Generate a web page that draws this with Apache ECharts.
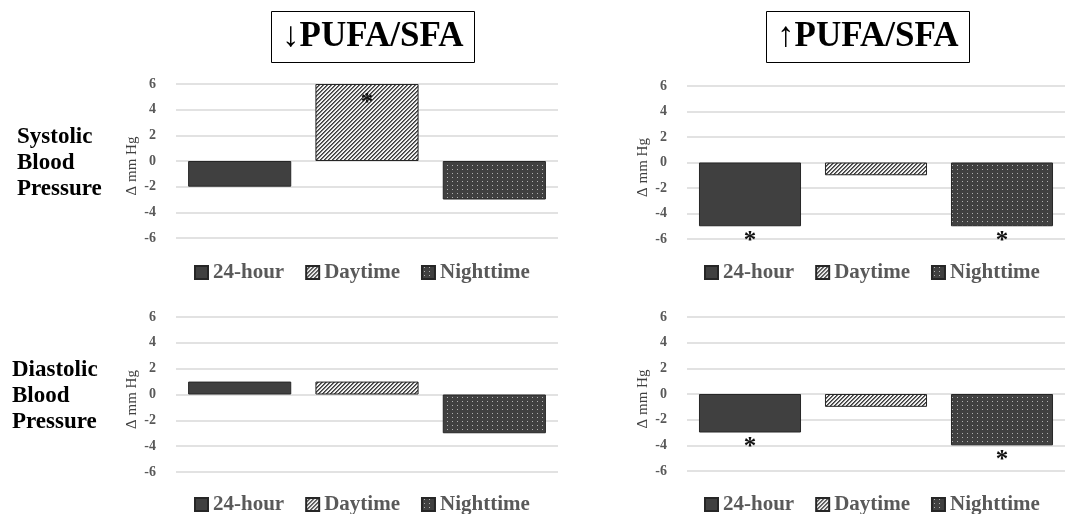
<!DOCTYPE html>
<html>
<head>
<meta charset="utf-8">
<script src="https://cdn.jsdelivr.net/npm/echarts@6/dist/echarts.min.js"></script>
<style>html,body{margin:0;padding:0;background:#fff}#c{width:1065px;height:514px}</style>
</head>
<body>
<div id="c"></div>
<script>
// ---- data ----
const categories = ['24-hour', 'Daytime', 'Nighttime'];
const panelTitles = ['\u2193PUFA/SFA', '\u2191PUFA/SFA'];
const rowLabels = ['Systolic\nBlood\nPressure', 'Diastolic\nBlood\nPressure'];
const yTicks = [-6, -4, -2, 0, 2, 4, 6];
const yName = '\u0394 mm Hg';
// change in mm Hg, order = categories
const sbpLowPS = [-2, 6, -3];
const sbpHighPS = [-5, -1, -5];
const dbpLowPS = [1, 1, -3];
const dbpHighPS = [-3, -1, -4];
// significance markers (*)
const sbpLowSig = [false, true, false];
const sbpHighSig = [true, false, true];
const dbpLowSig = [false, false, false];
const dbpHighSig = [true, false, true];

// ---- patterns ----
function hatch() {
  const c = document.createElement('canvas'); c.width = 4; c.height = 4;
  const g = c.getContext('2d');
  g.fillStyle = '#f0f0f0'; g.fillRect(0, 0, 4, 4);
  for (let x = 0; x < 4; x++) for (let y = 0; y < 4; y++) {
    const k = (x + y) % 4;
    if (k === 3) { g.fillStyle = '#3c3c3c'; g.fillRect(x, y, 1, 1); }
    if (k === 0) { g.fillStyle = '#6e6e6e'; g.fillRect(x, y, 1, 1); }
  }
  return c;
}
function dots() {
  const c = document.createElement('canvas'); c.width = 5; c.height = 4;
  const g = c.getContext('2d');
  g.fillStyle = '#404040'; g.fillRect(0, 0, 5, 4);
  g.fillStyle = '#b0b0b0'; g.fillRect(2, 1, 1, 1);
  return c;
}
const fills = ['#404040', { image: hatch(), repeat: 'repeat' }, { image: dots(), repeat: 'repeat' }];

const FONT = 'Liberation Serif, DejaVu Serif, serif';
const panels = [
  { vals: sbpLowPS, sig: sbpLowSig, left: 176, top: 84, height: 154 },
  { vals: sbpHighPS, sig: sbpHighSig, left: 687, top: 86, height: 153 },
  { vals: dbpLowPS, sig: dbpLowSig, left: 176, top: 317, height: 155 },
  { vals: dbpHighPS, sig: dbpHighSig, left: 687, top: 317, height: 154 }
];

const grid = [], xAxis = [], yAxis = [], series = [], legend = [];
panels.forEach((p, pi) => {
  grid.push({ left: p.left, top: p.top, width: 382, height: p.height });
  xAxis.push({ type: 'category', gridIndex: pi, data: categories,
    axisLine: { show: false }, axisTick: { show: false }, axisLabel: { show: false } });
  yAxis.push({ type: 'value', gridIndex: pi, min: yTicks[0], max: yTicks[yTicks.length - 1], interval: 2,
    name: yName, nameLocation: 'middle', nameGap: 36, nameRotate: 90,
    nameTextStyle: { fontFamily: FONT, fontSize: 15, color: '#404040', padding: [0, 10, 0, 0] },
    axisLine: { show: false }, axisTick: { show: false },
    axisLabel: { margin: 20, fontFamily: FONT, fontWeight: 'bold', fontSize: 14, color: '#595959' },
    splitLine: { lineStyle: { color: '#d9d9d9', width: 1.5 } } });
  categories.forEach((cat, ci) => {
    const data = categories.map((_, k) => {
      if (k !== ci) return '-';
      const v = p.vals[k];
      const item = { value: v };
      if (p.sig[k]) {
        item.label = { show: true, formatter: '*', position: v > 0 ? 'insideTop' : 'bottom',
          distance: v > 0 ? 7 : 3, fontFamily: FONT, fontWeight: 'bold', fontSize: 25, color: '#111' };
      }
      return item;
    });
    series.push({ type: 'bar', name: cat, xAxisIndex: pi, yAxisIndex: pi, data,
      barWidth: '81%', barGap: '-100%',
      itemStyle: { color: fills[ci], borderColor: '#262626', borderWidth: 1 },
      emphasis: { disabled: true }, silent: true });
  });
  legend.push({ data: categories, left: pi % 2 === 0 ? 194 : 704, top: pi < 2 ? 262 : 494,
    padding: 0, selectedMode: false, icon: 'rect', itemWidth: 13, itemHeight: 13, itemGap: 21,
    textStyle: { fontFamily: FONT, fontWeight: 'bold', fontSize: 21, color: '#595959' } });
});

const title = panelTitles.map((t, i) => ({
  text: t, left: i === 0 ? 271 : 766, top: 12,
  borderColor: '#000', borderWidth: 1, padding: [8, 11, 8, 11], backgroundColor: '#fff',
  textStyle: { fontFamily: FONT, fontWeight: 'bold', fontSize: 35, lineHeight: 34, color: '#000' }
}));

const graphic = rowLabels.map((t, i) => ({
  type: 'text', left: i === 0 ? 17 : 12, top: i === 0 ? 124 : 357,
  style: { text: t, fontFamily: FONT, fontWeight: 'bold', fontSize: 23, lineHeight: 26, fill: '#000' }
}));

const chart = echarts.init(document.getElementById('c'), null, { renderer: 'canvas' });
chart.setOption({ animation: false, backgroundColor: '#fff', title, grid, xAxis, yAxis, series, legend, graphic });
</script>
</body>
</html>
